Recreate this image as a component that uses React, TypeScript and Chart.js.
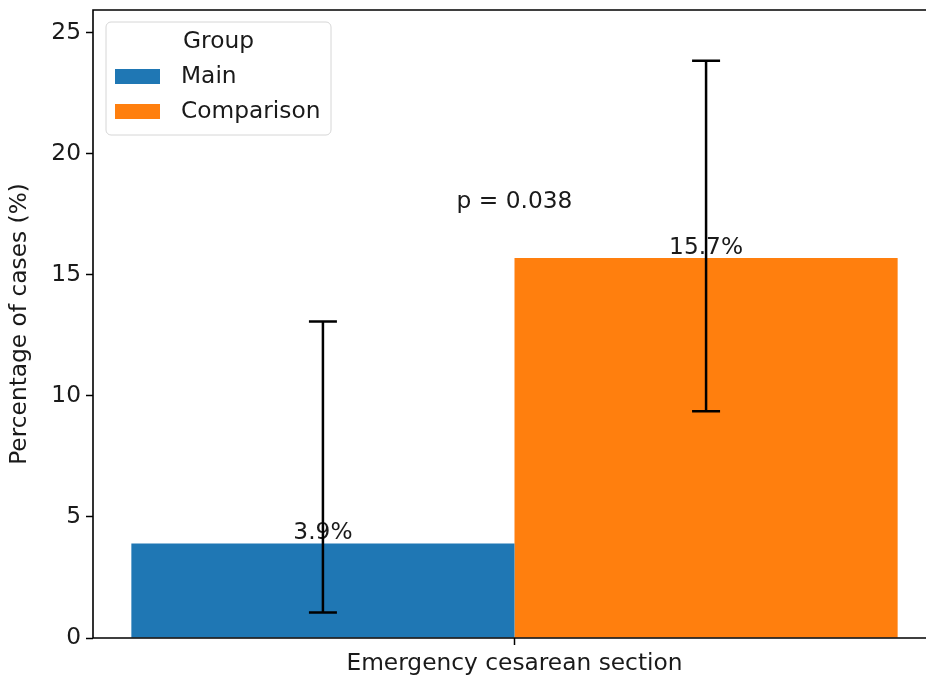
import React, { useEffect, useRef } from 'react';
import { Chart, registerables } from 'chart.js';

Chart.register(...registerables);

const categories = ['Emergency cesarean section'];
const groupNames = ['Main', 'Comparison'];
const groupColors = ['#1f77b4', '#ff7f0e'];
const mainValues = [3.9];
const comparisonValues = [15.7];
const mainErrLow = [1.05];
const mainErrHigh = [13.08];
const comparisonErrLow = [9.37];
const comparisonErrHigh = [23.85];
const valueLabels = [['3.9%'], ['15.7%']];
const yTicks = [0, 5, 10, 15, 20, 25];
const yMax = 25.95;
const pValueText = 'p = 0.038';
const pValueY = 18;
const legendTitle = 'Group';
const yTitle = 'Percentage of cases (%)';

const FONT = '"DejaVu Sans", "Liberation Sans", sans-serif';
const FS = 23.3;
const TXT = '#1a1a1a';

const errLow = [mainErrLow, comparisonErrLow];
const errHigh = [mainErrHigh, comparisonErrHigh];

const overlayPlugin = {
  id: 'overlay',
  afterDatasetsDraw(chart: any) {
    const ctx = chart.ctx;
    const y = chart.scales.y;
    const x = chart.scales.x;
    const area = chart.chartArea;
    ctx.save();
    ctx.font = `${FS}px ${FONT}`;
    ctx.fillStyle = TXT;
    ctx.textAlign = 'center';
    chart.data.datasets.forEach((ds: any, di: number) => {
      const meta = chart.getDatasetMeta(di);
      meta.data.forEach((el: any, i: number) => {
        ctx.textBaseline = 'alphabetic';
        ctx.fillText(valueLabels[di][i], el.x, y.getPixelForValue(ds.data[i]) - 4.5);
      });
    });
    ctx.textBaseline = 'middle';
    ctx.fillText(pValueText, x.getPixelForValue(0), y.getPixelForValue(pValueY));
    ctx.strokeStyle = '#000';
    ctx.lineWidth = 2.5;
    chart.data.datasets.forEach((ds: any, di: number) => {
      const meta = chart.getDatasetMeta(di);
      meta.data.forEach((el: any, i: number) => {
        const lo = y.getPixelForValue(errLow[di][i]);
        const hi = y.getPixelForValue(errHigh[di][i]);
        ctx.beginPath();
        ctx.moveTo(el.x, lo);
        ctx.lineTo(el.x, hi);
        ctx.moveTo(el.x - 14, lo);
        ctx.lineTo(el.x + 14, lo);
        ctx.moveTo(el.x - 14, hi);
        ctx.lineTo(el.x + 14, hi);
        ctx.stroke();
      });
    });
    // spines: top, left, bottom (right spine lies outside the visible image)
    ctx.lineWidth = 1.6;
    ctx.strokeStyle = '#000';
    ctx.beginPath();
    ctx.moveTo(area.right + 2, area.top);
    ctx.lineTo(area.left, area.top);
    ctx.lineTo(area.left, area.bottom);
    ctx.lineTo(area.right + 2, area.bottom);
    ctx.stroke();
    ctx.restore();
  },
  afterDraw(chart: any) {
    const ctx = chart.ctx;
    ctx.save();
    const bx = 106, by = 22, bw = 225, bh = 113, r = 5;
    ctx.beginPath();
    ctx.moveTo(bx + r, by);
    ctx.arcTo(bx + bw, by, bx + bw, by + bh, r);
    ctx.arcTo(bx + bw, by + bh, bx, by + bh, r);
    ctx.arcTo(bx, by + bh, bx, by, r);
    ctx.arcTo(bx, by, bx + bw, by, r);
    ctx.closePath();
    ctx.fillStyle = 'rgba(255,255,255,0.8)';
    ctx.fill();
    ctx.strokeStyle = '#d6d6d6';
    ctx.lineWidth = 1;
    ctx.stroke();
    ctx.font = `${FS}px ${FONT}`;
    ctx.fillStyle = TXT;
    ctx.textBaseline = 'middle';
    ctx.textAlign = 'center';
    ctx.fillText(legendTitle, bx + bw / 2, 42);
    ctx.textAlign = 'left';
    chart.data.datasets.forEach((ds: any, i: number) => {
      const cy = 77 + i * 35;
      ctx.fillStyle = ds.backgroundColor;
      ctx.fillRect(115, cy - 8, 45, 15);
      ctx.fillStyle = TXT;
      ctx.fillText(ds.label, 181, cy);
    });
    ctx.restore();
  },
};

export default function App() {
  const ref = useRef<HTMLCanvasElement>(null);
  useEffect(() => {
    if (!ref.current) return;
    const chart = new Chart(ref.current, {
      type: 'bar',
      data: {
        labels: categories,
        datasets: [
          { label: groupNames[0], data: mainValues, backgroundColor: groupColors[0], categoryPercentage: 0.909, barPercentage: 1 },
          { label: groupNames[1], data: comparisonValues, backgroundColor: groupColors[1], categoryPercentage: 0.909, barPercentage: 1 },
        ],
      },
      options: {
        responsive: false,
        animation: false,
        devicePixelRatio: 1,
        layout: { padding: { top: 10, right: 14, left: 0, bottom: 0 } },
        plugins: { legend: { display: false }, tooltip: { enabled: false }, title: { display: false } },
        scales: {
          x: {
            grid: { display: true, drawOnChartArea: false, drawTicks: true, tickLength: 7, tickWidth: 1.5, tickColor: '#000', offset: false },
            border: { display: false },
            ticks: { color: TXT, font: { family: FONT, size: FS }, padding: 5 },
            afterFit: (s: any) => { s.height = 44; s.paddingLeft = 0; s.paddingRight = 0; },
          },
          y: {
            min: 0,
            max: yMax,
            afterBuildTicks: (s: any) => { s.ticks = yTicks.map((v) => ({ value: v })); },
            grid: { display: true, drawOnChartArea: false, drawTicks: true, tickLength: 7, tickWidth: 1.5, tickColor: '#000' },
            border: { display: false },
            ticks: { color: TXT, font: { family: FONT, size: FS }, padding: 5 },
            title: { display: true, text: yTitle, color: TXT, font: { family: FONT, size: FS }, padding: { top: 6, bottom: 0 } },
            afterFit: (s: any) => { s.width = 93; s.paddingTop = 0; s.paddingBottom = 0; },
          },
        },
      },
      plugins: [overlayPlugin],
    });
    return () => chart.destroy();
  }, []);
  return (
    <div style={{ position: 'absolute', left: 0, top: 0, width: 926, height: 682, overflow: 'hidden', background: '#fff' }}>
      <canvas ref={ref} width={950} height={682} style={{ width: 950, height: 682, display: 'block' }} />
    </div>
  );
}
